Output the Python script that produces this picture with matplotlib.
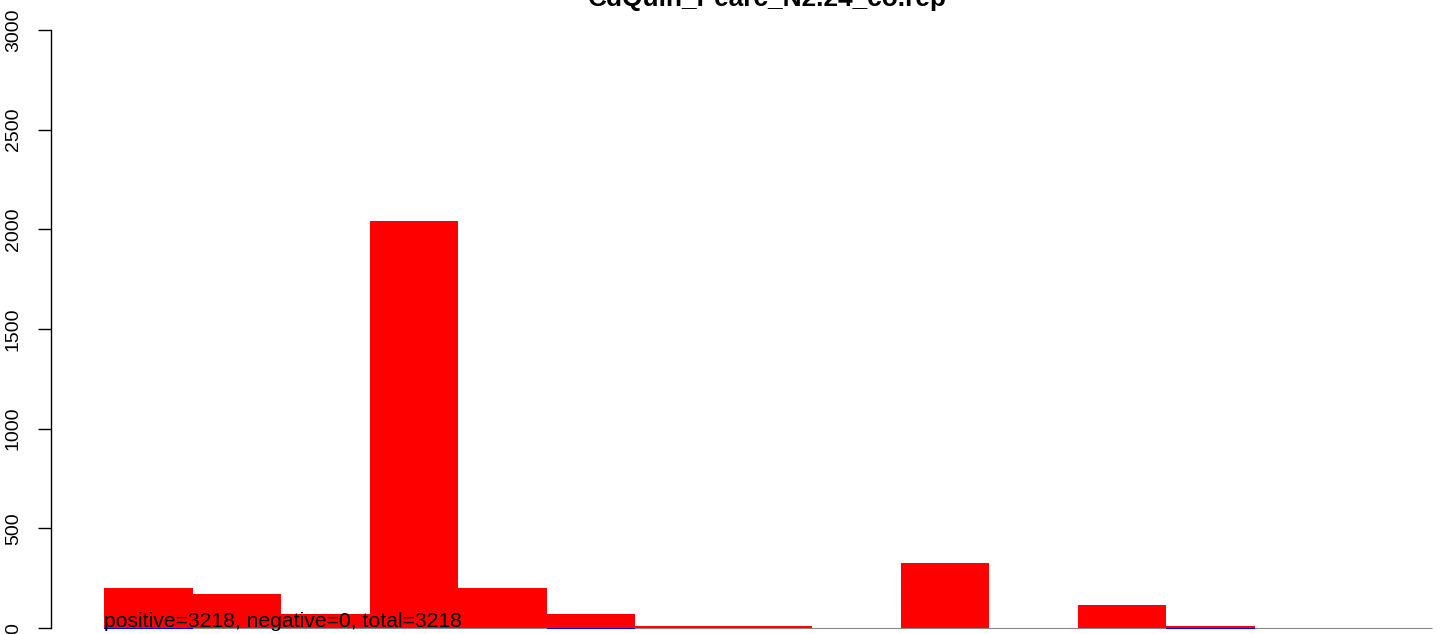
import matplotlib
matplotlib.use("Agg")
import matplotlib.pyplot as plt
import numpy as np

plt.rcParams['font.family'] = ['Liberation Sans', 'DejaVu Sans']

title = "CdQuin_Pearc_N2.24_co.rep"
red_vals = [200, 170, 70, 2042, 200, 70, 10, 8, 2, 326, 2, 115, 12, 2, 2]
blue_vals = [5, 0, 0, 0, 0, 5, 0, 0, 0, 0, 0, 0, 5, 0, 0]
yticks = [0, 500, 1000, 1500, 2000, 2500, 3000]
note = "positive=3218, negative=0, total=3218"

W, H = 1444, 634
fig = plt.figure(figsize=(W / 100, H / 100), dpi=100)
ax = fig.add_axes([51 / W, (H - 652) / H, 1434 / W, 646 / H])
ax.set_xlim(-0.6, 15.6)
ax.set_ylim(-120, 3120)

x = np.arange(len(red_vals))
ax.bar(x, red_vals, width=1.0, align='edge', color='#ff0000', linewidth=0, zorder=2)
ax.plot([0, len(red_vals)], [0, 0], color='#888888', lw=0.8, zorder=3, solid_capstyle='butt')
ax.bar(x, blue_vals, width=1.0, align='edge', bottom=-3, color='#0000ff', linewidth=0, zorder=4)

for s in ['top', 'right', 'bottom']:
    ax.spines[s].set_visible(False)
ax.spines['left'].set_bounds(0, 3000)
ax.spines['left'].set_linewidth(1.0)
ax.set_xticks([])
ax.set_yticks(yticks)
ax.set_yticklabels([str(v) for v in yticks], rotation=90, va='center')
ax.tick_params(axis='y', direction='out', length=9.4, width=1.0, pad=11.5, labelsize=14)

ax.text(0, 5, note, ha='left', va='baseline', fontsize=15.2, zorder=5)

fig.text(767 / W, 1 - 6 / H, title, ha='center', va='baseline', fontsize=18.9, fontweight='bold')

fig.savefig('out.png', dpi=100)
